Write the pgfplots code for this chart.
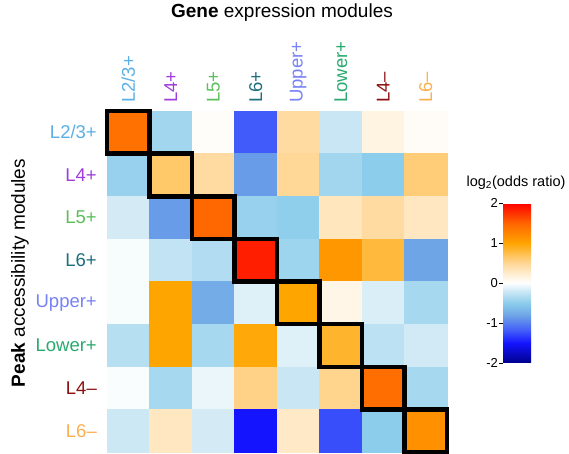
\documentclass[border=0pt]{standalone}
\usepackage{pgfplots}
\pgfplotsset{compat=1.18}
\usepackage{fontspec}
\setmainfont{Liberation Sans}
\definecolor{cLa}{RGB}{90,175,230}
\definecolor{cLb}{RGB}{160,60,220}
\definecolor{cLc}{RGB}{90,190,90}
\definecolor{cLd}{RGB}{30,110,125}
\definecolor{cLe}{RGB}{120,130,245}
\definecolor{cLf}{RGB}{40,170,110}
\definecolor{cLg}{RGB}{140,15,15}
\definecolor{cLh}{RGB}{250,175,80}
\begin{document}
\begin{tikzpicture}
\useasboundingbox (0,0) rectangle (569pt,454pt);
\begin{axis}[
  at={(107pt,2pt)}, anchor=south west,
  scale only axis, width=340pt, height=341pt,
  xmin=-0.5, xmax=7.5, ymin=-0.5, ymax=7.5,
  enlargelimits=false, y dir=reverse, clip=false,
  axis line style={draw=none}, tick style={draw=none},
  xtick={0,...,7}, ytick={0,...,7},
  xticklabel pos=upper,
  xticklabels={\textcolor{cLa}{L2/3+},\textcolor{cLb}{L4+},\textcolor{cLc}{L5+},\textcolor{cLd}{L6+},\textcolor{cLe}{Upper+},\textcolor{cLf}{Lower+},\textcolor{cLg}{L4–},\textcolor{cLh}{L6–}},
  yticklabels={\textcolor{cLa}{L2/3+},\textcolor{cLb}{L4+},\textcolor{cLc}{L5+},\textcolor{cLd}{L6+},\textcolor{cLe}{Upper+},\textcolor{cLf}{Lower+},\textcolor{cLg}{L4–},\textcolor{cLh}{L6–}},
  major tick length=0pt,
  xticklabel style={yshift=8pt, rotate=90, anchor=west, font=\fontsize{18.5}{20}\selectfont, inner sep=0pt},
  yticklabel style={xshift=-10pt, anchor=east, font=\fontsize{18.5}{20}\selectfont, inner sep=0pt},
  colormap={mymap}{rgb255(0pt)=(0,0,139); rgb255(5pt)=(20,20,255); rgb255(8pt)=(65,90,250); rgb255(12pt)=(110,165,230); rgb255(15pt)=(140,205,235); rgb255(18pt)=(205,232,245); rgb255(20pt)=(255,255,255); rgb255(22pt)=(255,240,215); rgb255(25pt)=(255,215,150); rgb255(30pt)=(255,165,0); rgb255(35pt)=(255,100,0); rgb255(40pt)=(255,0,0)},
  point meta min=-2, point meta max=2,
  colorbar right,
  colorbar/width=28pt,
  colorbar style={
    at={(parent axis.south east)}, anchor=south west,
    xshift=47.5pt, yshift=89pt,
    scale only axis,
    width=28pt, height=160pt,
    axis line style={draw=none},
    ytick={-2,-1,0,1,2},
    yticklabels={-2,-1,0,1,2},
    yticklabel pos=left, ytick pos=left,
    tick align=outside, major tick length=4pt,
    tick style={black, line width=0.6pt, draw=black},
    yticklabel style={font=\fontsize{13}{15}\selectfont, inner sep=1pt},
  },
]
\addplot[matrix plot*, mesh/cols=8, point meta=explicit] table[meta=c] {
x y c
0 0 1.4
1 0 -0.4
2 0 0.03
3 0 -1.2
4 0 0.45
5 0 -0.22
6 0 0.15
7 0 0.04
0 1 -0.45
1 1 0.65
2 1 0.45
3 1 -0.85
4 1 0.5
5 1 -0.4
6 1 -0.5
7 1 0.6
0 2 -0.17
1 2 -0.85
2 2 1.48
3 2 -0.45
4 2 -0.48
5 2 0.32
6 2 0.45
7 2 0.3
0 3 -0.03
1 3 -0.25
2 3 -0.33
3 3 1.85
4 3 -0.42
5 3 1.1
6 3 0.8
7 3 -0.8
0 4 -0.03
1 4 1.0
2 4 -0.75
3 4 -0.13
4 4 1.0
5 4 0.12
6 4 -0.15
7 4 -0.38
0 5 -0.3
1 5 1.0
2 5 -0.38
3 5 0.97
4 5 -0.13
5 5 0.85
6 5 -0.28
7 5 -0.18
0 6 -0.02
1 6 -0.38
2 6 -0.08
3 6 0.55
4 6 -0.22
5 6 0.53
6 6 1.42
7 6 -0.38
0 7 -0.2
1 7 0.3
2 7 -0.17
3 7 -1.5
4 7 0.28
5 7 -1.25
6 7 -0.5
7 7 1.15
};
\addplot[black, line width=4.5pt, line join=miter, no marks] coordinates {(-0.5,-0.5) (0.5,-0.5) (0.5,0.5) (-0.5,0.5)} -- cycle;
\addplot[black, line width=4.5pt, line join=miter, no marks] coordinates {(0.5,0.5) (1.5,0.5) (1.5,1.5) (0.5,1.5)} -- cycle;
\addplot[black, line width=4.5pt, line join=miter, no marks] coordinates {(1.5,1.5) (2.5,1.5) (2.5,2.5) (1.5,2.5)} -- cycle;
\addplot[black, line width=4.5pt, line join=miter, no marks] coordinates {(2.5,2.5) (3.5,2.5) (3.5,3.5) (2.5,3.5)} -- cycle;
\addplot[black, line width=4.5pt, line join=miter, no marks] coordinates {(3.5,3.5) (4.5,3.5) (4.5,4.5) (3.5,4.5)} -- cycle;
\addplot[black, line width=4.5pt, line join=miter, no marks] coordinates {(4.5,4.5) (5.5,4.5) (5.5,5.5) (4.5,5.5)} -- cycle;
\addplot[black, line width=4.5pt, line join=miter, no marks] coordinates {(5.5,5.5) (6.5,5.5) (6.5,6.5) (5.5,6.5)} -- cycle;
\addplot[black, line width=4.5pt, line join=miter, no marks] coordinates {(6.5,6.5) (7.5,6.5) (7.5,7.5) (6.5,7.5)} -- cycle;
\end{axis}
\node[font=\fontsize{19}{22}\selectfont] at (282pt,441pt) {\textbf{Gene} expression modules};
\node[font=\fontsize{19}{22}\selectfont, rotate=90] at (20pt,181pt) {\textbf{Peak} accessibility modules};
\node[font=\fontsize{14.5}{17}\selectfont] at (516pt,271pt) {log\textsubscript{2}(odds ratio)};
\end{tikzpicture}
\end{document}
